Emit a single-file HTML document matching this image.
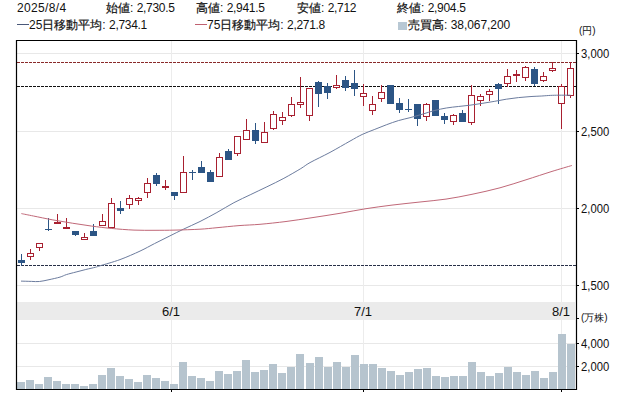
<!DOCTYPE html>
<html><head><meta charset="utf-8">
<style>
html,body{margin:0;padding:0;background:#fff;}
body{width:618px;height:413px;position:relative;overflow:hidden;font-family:"Liberation Sans",sans-serif;color:#111;}
.t{position:absolute;font-size:12px;line-height:14px;white-space:nowrap;}
.t b{font-weight:normal;letter-spacing:-0.3px;}
.t u{text-decoration:none;-webkit-text-stroke:0.2px #111;}
.t i{display:inline-block;width:12px;height:1px;vertical-align:middle;position:relative;top:-1px;margin-right:0px;}
.a{position:absolute;font-size:12.5px;line-height:14px;white-space:nowrap;color:#111;transform:scaleX(0.9);transform-origin:0 0;}
.x{position:absolute;font-size:13px;line-height:14px;white-space:nowrap;color:#111;width:40px;text-align:center;}
svg{position:absolute;left:0;top:0;}
</style></head><body>
<svg width="618" height="413" viewBox="0 0 618 413">
<line x1="17" x2="576" y1="53.5" y2="53.5" stroke="#e8e8e8" stroke-width="1"/>
<line x1="17" x2="576" y1="131.5" y2="131.5" stroke="#e8e8e8" stroke-width="1"/>
<line x1="17" x2="576" y1="208.5" y2="208.5" stroke="#e8e8e8" stroke-width="1"/>
<line x1="17" x2="576" y1="285.5" y2="285.5" stroke="#e8e8e8" stroke-width="1"/>
<line x1="17" x2="576" y1="343.5" y2="343.5" stroke="#e8e8e8" stroke-width="1"/>
<line x1="17" x2="576" y1="366.5" y2="366.5" stroke="#e8e8e8" stroke-width="1"/>
<rect x="17" y="302" width="558" height="18" fill="#ebebeb"/>
<line x1="171.5" x2="171.5" y1="41" y2="389" stroke="#ececec" stroke-width="1"/>
<line x1="363.5" x2="363.5" y1="41" y2="389" stroke="#ececec" stroke-width="1"/>
<line x1="561.5" x2="561.5" y1="41" y2="389" stroke="#ececec" stroke-width="1"/>
<rect x="17" y="382" width="8" height="7" fill="#b6c4ce"/>
<rect x="26" y="380" width="8" height="9" fill="#b6c4ce"/>
<rect x="35" y="384" width="8" height="5" fill="#b6c4ce"/>
<rect x="44" y="377" width="8" height="12" fill="#b6c4ce"/>
<rect x="53" y="381" width="8" height="8" fill="#b6c4ce"/>
<rect x="62" y="384" width="8" height="5" fill="#b6c4ce"/>
<rect x="71" y="384" width="8" height="5" fill="#b6c4ce"/>
<rect x="80" y="386" width="8" height="3" fill="#b6c4ce"/>
<rect x="89" y="384" width="8" height="5" fill="#b6c4ce"/>
<rect x="98" y="375" width="8" height="14" fill="#b6c4ce"/>
<rect x="107" y="368" width="8" height="21" fill="#b6c4ce"/>
<rect x="116" y="376" width="8" height="13" fill="#b6c4ce"/>
<rect x="125" y="379" width="8" height="10" fill="#b6c4ce"/>
<rect x="134" y="382" width="8" height="7" fill="#b6c4ce"/>
<rect x="143" y="375" width="8" height="14" fill="#b6c4ce"/>
<rect x="152" y="378" width="8" height="11" fill="#b6c4ce"/>
<rect x="161" y="381" width="8" height="8" fill="#b6c4ce"/>
<rect x="170" y="384" width="8" height="5" fill="#b6c4ce"/>
<rect x="179" y="362" width="8" height="27" fill="#b6c4ce"/>
<rect x="188" y="376" width="8" height="13" fill="#b6c4ce"/>
<rect x="197" y="378" width="8" height="11" fill="#b6c4ce"/>
<rect x="206" y="381" width="8" height="8" fill="#b6c4ce"/>
<rect x="215" y="371" width="8" height="18" fill="#b6c4ce"/>
<rect x="224" y="374" width="8" height="15" fill="#b6c4ce"/>
<rect x="233" y="371" width="8" height="18" fill="#b6c4ce"/>
<rect x="242" y="360" width="8" height="29" fill="#b6c4ce"/>
<rect x="251" y="372" width="8" height="17" fill="#b6c4ce"/>
<rect x="260" y="370" width="8" height="19" fill="#b6c4ce"/>
<rect x="269" y="364" width="8" height="25" fill="#b6c4ce"/>
<rect x="278" y="373" width="8" height="16" fill="#b6c4ce"/>
<rect x="287" y="367" width="8" height="22" fill="#b6c4ce"/>
<rect x="296" y="354" width="8" height="35" fill="#b6c4ce"/>
<rect x="306" y="363" width="8" height="26" fill="#b6c4ce"/>
<rect x="315" y="357" width="8" height="32" fill="#b6c4ce"/>
<rect x="324" y="367" width="8" height="22" fill="#b6c4ce"/>
<rect x="333" y="362" width="8" height="27" fill="#b6c4ce"/>
<rect x="342" y="367" width="8" height="22" fill="#b6c4ce"/>
<rect x="351" y="355" width="8" height="34" fill="#b6c4ce"/>
<rect x="360" y="364" width="8" height="25" fill="#b6c4ce"/>
<rect x="369" y="364" width="8" height="25" fill="#b6c4ce"/>
<rect x="378" y="368" width="8" height="21" fill="#b6c4ce"/>
<rect x="387" y="371" width="8" height="18" fill="#b6c4ce"/>
<rect x="396" y="375" width="8" height="14" fill="#b6c4ce"/>
<rect x="405" y="372" width="8" height="17" fill="#b6c4ce"/>
<rect x="414" y="369" width="8" height="20" fill="#b6c4ce"/>
<rect x="423" y="368" width="8" height="21" fill="#b6c4ce"/>
<rect x="432" y="376" width="8" height="13" fill="#b6c4ce"/>
<rect x="441" y="377" width="8" height="12" fill="#b6c4ce"/>
<rect x="450" y="376" width="8" height="13" fill="#b6c4ce"/>
<rect x="459" y="376" width="8" height="13" fill="#b6c4ce"/>
<rect x="468" y="362" width="8" height="27" fill="#b6c4ce"/>
<rect x="477" y="372" width="8" height="17" fill="#b6c4ce"/>
<rect x="486" y="376" width="8" height="13" fill="#b6c4ce"/>
<rect x="495" y="373" width="8" height="16" fill="#b6c4ce"/>
<rect x="504" y="367" width="8" height="22" fill="#b6c4ce"/>
<rect x="513" y="372" width="8" height="17" fill="#b6c4ce"/>
<rect x="522" y="375" width="8" height="14" fill="#b6c4ce"/>
<rect x="531" y="371" width="8" height="18" fill="#b6c4ce"/>
<rect x="540" y="378" width="8" height="11" fill="#b6c4ce"/>
<rect x="549" y="372" width="8" height="17" fill="#b6c4ce"/>
<rect x="558" y="334" width="8" height="55" fill="#b6c4ce"/>
<rect x="567" y="344" width="8" height="45" fill="#b6c4ce"/>
<line x1="17" x2="576" y1="62.5" y2="62.5" stroke="#8a2a2a" stroke-width="1" stroke-dasharray="3,1"/>
<line x1="17" x2="576" y1="86.5" y2="86.5" stroke="#111" stroke-width="1" stroke-dasharray="3,1"/>
<line x1="17" x2="576" y1="265.5" y2="265.5" stroke="#283048" stroke-width="1" stroke-dasharray="3,1"/>
<rect x="21" y="254" width="1" height="12" fill="#2c5585"/>
<rect x="18" y="260" width="7" height="3" fill="#2c5585"/>
<rect x="30" y="249" width="1" height="4" fill="#a82030"/>
<rect x="30" y="257" width="1" height="3" fill="#a82030"/>
<rect x="27" y="253" width="7" height="4" fill="#a82030"/><rect x="28" y="254" width="5" height="2" fill="#fff"/>
<rect x="39" y="248" width="1" height="3" fill="#a82030"/>
<rect x="36" y="243" width="7" height="5" fill="#a82030"/><rect x="37" y="244" width="5" height="3" fill="#fff"/>
<rect x="48" y="218" width="1" height="13" fill="#2c5585"/>
<rect x="45" y="229" width="7" height="1" fill="#2c5585"/>
<rect x="57" y="214" width="1" height="10" fill="#a82030"/>
<rect x="54" y="222" width="7" height="2" fill="#a82030"/>
<rect x="66" y="218" width="1" height="11" fill="#a82030"/>
<rect x="63" y="227" width="7" height="2" fill="#a82030"/>
<rect x="75" y="231" width="1" height="5" fill="#2c5585"/>
<rect x="72" y="231" width="7" height="4" fill="#2c5585"/>
<rect x="84" y="233" width="1" height="4" fill="#a82030"/>
<rect x="81" y="237" width="7" height="3" fill="#a82030"/><rect x="82" y="238" width="5" height="1" fill="#fff"/>
<rect x="93" y="224" width="1" height="12" fill="#2c5585"/>
<rect x="90" y="231" width="7" height="5" fill="#2c5585"/>
<rect x="102" y="214" width="1" height="7" fill="#a82030"/>
<rect x="99" y="221" width="7" height="5" fill="#a82030"/><rect x="100" y="222" width="5" height="3" fill="#fff"/>
<rect x="111" y="198" width="1" height="5" fill="#a82030"/>
<rect x="108" y="203" width="7" height="25" fill="#a82030"/><rect x="109" y="204" width="5" height="23" fill="#fff"/>
<rect x="120" y="201" width="1" height="13" fill="#2c5585"/>
<rect x="117" y="208" width="7" height="3" fill="#2c5585"/>
<rect x="129" y="195" width="1" height="3" fill="#a82030"/>
<rect x="129" y="205" width="1" height="4" fill="#a82030"/>
<rect x="126" y="198" width="7" height="7" fill="#a82030"/><rect x="127" y="199" width="5" height="5" fill="#fff"/>
<rect x="138" y="197" width="1" height="1" fill="#a82030"/>
<rect x="138" y="201" width="1" height="4" fill="#a82030"/>
<rect x="135" y="198" width="7" height="3" fill="#a82030"/><rect x="136" y="199" width="5" height="1" fill="#fff"/>
<rect x="147" y="178" width="1" height="5" fill="#a82030"/>
<rect x="147" y="193" width="1" height="5" fill="#a82030"/>
<rect x="144" y="183" width="7" height="10" fill="#a82030"/><rect x="145" y="184" width="5" height="8" fill="#fff"/>
<rect x="156" y="173" width="1" height="13" fill="#2c5585"/>
<rect x="153" y="175" width="7" height="9" fill="#2c5585"/>
<rect x="165" y="180" width="1" height="10" fill="#a82030"/>
<rect x="162" y="186" width="7" height="2" fill="#a82030"/>
<rect x="174" y="192" width="1" height="8" fill="#2c5585"/>
<rect x="171" y="192" width="7" height="4" fill="#2c5585"/>
<rect x="183" y="156" width="1" height="16" fill="#a82030"/>
<rect x="180" y="172" width="7" height="21" fill="#a82030"/><rect x="181" y="173" width="5" height="19" fill="#fff"/>
<rect x="192" y="170" width="1" height="10" fill="#2c5585"/>
<rect x="189" y="172" width="7" height="1" fill="#2c5585"/>
<rect x="201" y="161" width="1" height="12" fill="#2c5585"/>
<rect x="198" y="167" width="7" height="6" fill="#2c5585"/>
<rect x="210" y="170" width="1" height="12" fill="#2c5585"/>
<rect x="207" y="172" width="7" height="10" fill="#2c5585"/>
<rect x="219" y="153" width="1" height="4" fill="#a82030"/>
<rect x="216" y="157" width="7" height="20" fill="#a82030"/><rect x="217" y="158" width="5" height="18" fill="#fff"/>
<rect x="228" y="149" width="1" height="11" fill="#2c5585"/>
<rect x="225" y="151" width="7" height="9" fill="#2c5585"/>
<rect x="237" y="154" width="1" height="2" fill="#a82030"/>
<rect x="234" y="136" width="7" height="18" fill="#a82030"/><rect x="235" y="137" width="5" height="16" fill="#fff"/>
<rect x="246" y="119" width="1" height="11" fill="#a82030"/>
<rect x="243" y="130" width="7" height="10" fill="#a82030"/><rect x="244" y="131" width="5" height="8" fill="#fff"/>
<rect x="255" y="123" width="1" height="21" fill="#2c5585"/>
<rect x="252" y="130" width="7" height="11" fill="#2c5585"/>
<rect x="264" y="122" width="1" height="10" fill="#a82030"/>
<rect x="261" y="132" width="7" height="11" fill="#a82030"/><rect x="262" y="133" width="5" height="9" fill="#fff"/>
<rect x="273" y="111" width="1" height="3" fill="#a82030"/>
<rect x="273" y="129" width="1" height="1" fill="#a82030"/>
<rect x="270" y="114" width="7" height="15" fill="#a82030"/><rect x="271" y="115" width="5" height="13" fill="#fff"/>
<rect x="282" y="112" width="1" height="5" fill="#a82030"/>
<rect x="282" y="121" width="1" height="4" fill="#a82030"/>
<rect x="279" y="117" width="7" height="4" fill="#a82030"/><rect x="280" y="118" width="5" height="2" fill="#fff"/>
<rect x="291" y="97" width="1" height="7" fill="#a82030"/>
<rect x="291" y="116" width="1" height="1" fill="#a82030"/>
<rect x="288" y="104" width="7" height="12" fill="#a82030"/><rect x="289" y="105" width="5" height="10" fill="#fff"/>
<rect x="300" y="77" width="1" height="25" fill="#a82030"/>
<rect x="300" y="105" width="1" height="3" fill="#a82030"/>
<rect x="297" y="102" width="7" height="3" fill="#a82030"/><rect x="298" y="103" width="5" height="1" fill="#fff"/>
<rect x="309" y="116" width="1" height="5" fill="#a82030"/>
<rect x="306" y="88" width="7" height="28" fill="#a82030"/><rect x="307" y="89" width="5" height="26" fill="#fff"/>
<rect x="318" y="81" width="1" height="26" fill="#2c5585"/>
<rect x="315" y="82" width="7" height="12" fill="#2c5585"/>
<rect x="327" y="83" width="1" height="16" fill="#2c5585"/>
<rect x="324" y="86" width="7" height="7" fill="#2c5585"/>
<rect x="336" y="75" width="1" height="10" fill="#a82030"/>
<rect x="336" y="88" width="1" height="1" fill="#a82030"/>
<rect x="333" y="85" width="7" height="3" fill="#a82030"/><rect x="334" y="86" width="5" height="1" fill="#fff"/>
<rect x="345" y="76" width="1" height="15" fill="#2c5585"/>
<rect x="342" y="80" width="7" height="8" fill="#2c5585"/>
<rect x="354" y="70" width="1" height="26" fill="#2c5585"/>
<rect x="351" y="83" width="7" height="6" fill="#2c5585"/>
<rect x="363" y="84" width="1" height="9" fill="#a82030"/>
<rect x="363" y="97" width="1" height="9" fill="#a82030"/>
<rect x="360" y="93" width="7" height="4" fill="#a82030"/><rect x="361" y="94" width="5" height="2" fill="#fff"/>
<rect x="372" y="96" width="1" height="8" fill="#a82030"/>
<rect x="372" y="111" width="1" height="4" fill="#a82030"/>
<rect x="369" y="104" width="7" height="7" fill="#a82030"/><rect x="370" y="105" width="5" height="5" fill="#fff"/>
<rect x="381" y="85" width="1" height="7" fill="#a82030"/>
<rect x="381" y="99" width="1" height="3" fill="#a82030"/>
<rect x="378" y="92" width="7" height="7" fill="#a82030"/><rect x="379" y="93" width="5" height="5" fill="#fff"/>
<rect x="390" y="85" width="1" height="19" fill="#2c5585"/>
<rect x="387" y="85" width="7" height="19" fill="#2c5585"/>
<rect x="399" y="98" width="1" height="15" fill="#2c5585"/>
<rect x="396" y="103" width="7" height="7" fill="#2c5585"/>
<rect x="408" y="99" width="1" height="13" fill="#2c5585"/>
<rect x="405" y="109" width="7" height="1" fill="#2c5585"/>
<rect x="417" y="104" width="1" height="22" fill="#2c5585"/>
<rect x="414" y="104" width="7" height="15" fill="#2c5585"/>
<rect x="426" y="103" width="1" height="1" fill="#a82030"/>
<rect x="426" y="117" width="1" height="4" fill="#a82030"/>
<rect x="423" y="104" width="7" height="13" fill="#a82030"/><rect x="424" y="105" width="5" height="11" fill="#fff"/>
<rect x="435" y="100" width="1" height="16" fill="#2c5585"/>
<rect x="432" y="100" width="7" height="16" fill="#2c5585"/>
<rect x="444" y="113" width="1" height="11" fill="#2c5585"/>
<rect x="441" y="116" width="7" height="4" fill="#2c5585"/>
<rect x="453" y="114" width="1" height="1" fill="#a82030"/>
<rect x="453" y="122" width="1" height="3" fill="#a82030"/>
<rect x="450" y="115" width="7" height="7" fill="#a82030"/><rect x="451" y="116" width="5" height="5" fill="#fff"/>
<rect x="462" y="110" width="1" height="12" fill="#2c5585"/>
<rect x="459" y="113" width="7" height="9" fill="#2c5585"/>
<rect x="471" y="85" width="1" height="10" fill="#a82030"/>
<rect x="471" y="123" width="1" height="2" fill="#a82030"/>
<rect x="468" y="95" width="7" height="28" fill="#a82030"/><rect x="469" y="96" width="5" height="26" fill="#fff"/>
<rect x="480" y="94" width="1" height="2" fill="#a82030"/>
<rect x="480" y="101" width="1" height="5" fill="#a82030"/>
<rect x="477" y="96" width="7" height="5" fill="#a82030"/><rect x="478" y="97" width="5" height="3" fill="#fff"/>
<rect x="489" y="89" width="1" height="2" fill="#a82030"/>
<rect x="489" y="95" width="1" height="6" fill="#a82030"/>
<rect x="486" y="91" width="7" height="4" fill="#a82030"/><rect x="487" y="92" width="5" height="2" fill="#fff"/>
<rect x="498" y="83" width="1" height="21" fill="#2c5585"/>
<rect x="495" y="84" width="7" height="5" fill="#2c5585"/>
<rect x="507" y="69" width="1" height="7" fill="#a82030"/>
<rect x="507" y="84" width="1" height="3" fill="#a82030"/>
<rect x="504" y="76" width="7" height="8" fill="#a82030"/><rect x="505" y="77" width="5" height="6" fill="#fff"/>
<rect x="516" y="70" width="1" height="12" fill="#a82030"/>
<rect x="513" y="74" width="7" height="2" fill="#a82030"/>
<rect x="525" y="66" width="1" height="1" fill="#a82030"/>
<rect x="525" y="78" width="1" height="3" fill="#a82030"/>
<rect x="522" y="67" width="7" height="11" fill="#a82030"/><rect x="523" y="68" width="5" height="9" fill="#fff"/>
<rect x="534" y="67" width="1" height="19" fill="#2c5585"/>
<rect x="531" y="69" width="7" height="15" fill="#2c5585"/>
<rect x="543" y="72" width="1" height="4" fill="#a82030"/>
<rect x="543" y="81" width="1" height="1" fill="#a82030"/>
<rect x="540" y="76" width="7" height="5" fill="#a82030"/><rect x="541" y="77" width="5" height="3" fill="#fff"/>
<rect x="552" y="62" width="1" height="6" fill="#a82030"/>
<rect x="552" y="71" width="1" height="1" fill="#a82030"/>
<rect x="549" y="68" width="7" height="3" fill="#a82030"/><rect x="550" y="69" width="5" height="1" fill="#fff"/>
<rect x="561" y="84" width="1" height="2" fill="#a82030"/>
<rect x="561" y="104" width="1" height="25" fill="#a82030"/>
<rect x="558" y="86" width="7" height="18" fill="#a82030"/><rect x="559" y="87" width="5" height="16" fill="#fff"/>
<rect x="570" y="62" width="1" height="6" fill="#a82030"/>
<rect x="570" y="96" width="1" height="2" fill="#a82030"/>
<rect x="567" y="68" width="7" height="28" fill="#a82030"/><rect x="568" y="69" width="5" height="26" fill="#fff"/>
<path d="M21.00,281.10 C22.75,281.15 28.43,281.33 31.50,281.40 C34.57,281.47 36.48,281.78 39.40,281.50 C42.32,281.22 45.57,280.43 49.00,279.70 C52.43,278.97 57.10,277.95 60.00,277.10 C62.90,276.25 63.72,275.45 66.40,274.60 C69.08,273.75 72.87,272.85 76.10,272.00 C79.33,271.15 82.55,270.30 85.80,269.50 C89.05,268.70 93.23,267.82 95.60,267.20 C97.97,266.58 95.93,267.07 100.00,265.80 C104.07,264.53 113.33,262.05 120.00,259.60 C126.67,257.15 134.25,253.77 140.00,251.10 C145.75,248.43 149.65,246.07 154.50,243.60 C159.35,241.13 164.25,238.72 169.10,236.30 C173.95,233.88 178.45,231.57 183.60,229.10 C188.75,226.63 194.45,224.27 200.00,221.50 C205.55,218.73 211.25,215.63 216.90,212.50 C222.55,209.37 228.25,205.70 233.90,202.70 C239.55,199.70 245.30,197.15 250.80,194.50 C256.30,191.85 261.38,189.50 266.90,186.80 C272.42,184.10 278.25,181.33 283.90,178.30 C289.55,175.27 296.45,171.22 300.80,168.60 C305.15,165.98 305.13,165.30 310.00,162.60 C314.87,159.90 323.33,155.98 330.00,152.40 C336.67,148.82 344.65,144.08 350.00,141.10 C355.35,138.12 358.07,136.42 362.10,134.50 C366.13,132.58 370.17,131.22 374.20,129.60 C378.23,127.98 382.27,126.30 386.30,124.80 C390.33,123.30 394.45,121.78 398.40,120.60 C402.35,119.42 406.05,118.75 410.00,117.70 C413.95,116.65 418.07,115.48 422.10,114.30 C426.13,113.12 430.17,111.65 434.20,110.60 C438.23,109.55 442.27,108.68 446.30,108.00 C450.33,107.32 454.45,106.97 458.40,106.50 C462.35,106.03 466.05,105.72 470.00,105.20 C473.95,104.68 478.07,104.03 482.10,103.40 C486.13,102.77 490.17,102.10 494.20,101.40 C498.23,100.70 502.27,99.83 506.30,99.20 C510.33,98.57 514.45,98.03 518.40,97.60 C522.35,97.17 526.10,96.87 530.00,96.60 C533.90,96.33 538.42,96.20 541.80,96.00 C545.18,95.80 547.48,95.53 550.30,95.40 C553.12,95.27 555.33,95.23 558.70,95.20 C562.07,95.17 568.53,95.20 570.50,95.20" fill="none" stroke="#6c7c9e" stroke-width="1.0"/>
<path d="M21.40,213.60 C23.40,214.00 28.17,214.95 33.40,216.00 C38.63,217.05 46.32,218.70 52.80,219.90 C59.28,221.10 65.82,222.17 72.30,223.20 C78.78,224.23 85.23,225.23 91.70,226.10 C98.17,226.97 104.05,227.73 111.10,228.40 C118.15,229.07 126.68,229.78 134.00,230.10 C141.32,230.42 148.17,230.30 155.00,230.30 C161.83,230.30 167.50,230.28 175.00,230.10 C182.50,229.92 193.00,229.60 200.00,229.20 C207.00,228.80 210.50,228.30 217.00,227.70 C223.50,227.10 231.83,226.17 239.00,225.60 C246.17,225.03 252.17,224.98 260.00,224.30 C267.83,223.62 277.33,222.60 286.00,221.50 C294.67,220.40 303.00,219.07 312.00,217.70 C321.00,216.33 331.00,214.80 340.00,213.30 C349.00,211.80 357.33,210.07 366.00,208.70 C374.67,207.33 383.00,206.22 392.00,205.10 C401.00,203.98 411.00,203.00 420.00,202.00 C429.00,201.00 437.33,200.38 446.00,199.10 C454.67,197.82 463.00,196.18 472.00,194.30 C481.00,192.42 491.00,190.22 500.00,187.80 C509.00,185.38 517.33,182.53 526.00,179.80 C534.67,177.07 544.37,173.78 552.00,171.40 C559.63,169.02 568.50,166.48 571.80,165.50" fill="none" stroke="#c06878" stroke-width="1.0"/>
<line x1="16.5" x2="16.5" y1="40" y2="390" stroke="#000" stroke-width="1.2"/>
<line x1="576.5" x2="576.5" y1="40" y2="390" stroke="#000" stroke-width="1.2"/>
<line x1="16" x2="577" y1="40.5" y2="40.5" stroke="#000" stroke-width="1.2"/>
<line x1="16" x2="577" y1="389.5" y2="389.5" stroke="#000" stroke-width="1.2"/>
<line x1="577" x2="579" y1="53.5" y2="53.5" stroke="#000" stroke-width="1"/>
<line x1="577" x2="579" y1="131.5" y2="131.5" stroke="#000" stroke-width="1"/>
<line x1="577" x2="579" y1="208.5" y2="208.5" stroke="#000" stroke-width="1"/>
<line x1="577" x2="579" y1="285.5" y2="285.5" stroke="#000" stroke-width="1"/>
<line x1="577" x2="579" y1="318.5" y2="318.5" stroke="#000" stroke-width="1"/>
<line x1="577" x2="579" y1="343.5" y2="343.5" stroke="#000" stroke-width="1"/>
<line x1="577" x2="579" y1="366.5" y2="366.5" stroke="#000" stroke-width="1"/>
<line x1="171.5" x2="171.5" y1="390" y2="392" stroke="#000" stroke-width="1"/>
<line x1="363.5" x2="363.5" y1="390" y2="392" stroke="#000" stroke-width="1"/>
<line x1="561.5" x2="561.5" y1="390" y2="392" stroke="#000" stroke-width="1"/>
</svg>
<div class="t" style="left:17px;top:1px;letter-spacing:0.35px">2025/8/4</div>
<div class="t" style="left:106px;top:1px"><u>始値</u>: <b>2,730.5</b></div>
<div class="t" style="left:196px;top:1px"><u>高値</u>: <b>2,941.5</b></div>
<div class="t" style="left:297px;top:1px"><u>安値</u>: <b>2,712</b></div>
<div class="t" style="left:397px;top:1px"><u>終値</u>: <b>2,904.5</b></div>
<div class="t" style="left:17px;top:18px"><i style="background:#4a5878"></i>25<u>日移動平均</u>: <b>2,734.1</b></div>
<div class="t" style="left:195px;top:18px"><i style="background:#c06070"></i>75<u>日移動平均</u>: <b>2,271.8</b></div>
<div class="t" style="left:398px;top:18px"><i style="background:#b8c8d4;width:9px;height:8px;top:0px;margin-right:1px"></i><u>売買高</u>: <b style="letter-spacing:-0.05px">38,067,200</b></div>
<div class="a" style="left:579px;top:24px;font-size:10px;transform:none">(円)</div>
<div class="a" style="left:581px;top:47px">3,000</div>
<div class="a" style="left:581px;top:125px">2,500</div>
<div class="a" style="left:581px;top:202px">2,000</div>
<div class="a" style="left:581px;top:279px">1,500</div>
<div class="a" style="left:581px;top:311px;font-size:10px;transform:none">(万株)</div>
<div class="a" style="left:581px;top:337px">4,000</div>
<div class="a" style="left:581px;top:360px">2,000</div>
<div class="x" style="left:151px;top:305px">6/1</div>
<div class="x" style="left:343px;top:305px">7/1</div>
<div class="x" style="left:541px;top:305px">8/1</div>
</body></html>
